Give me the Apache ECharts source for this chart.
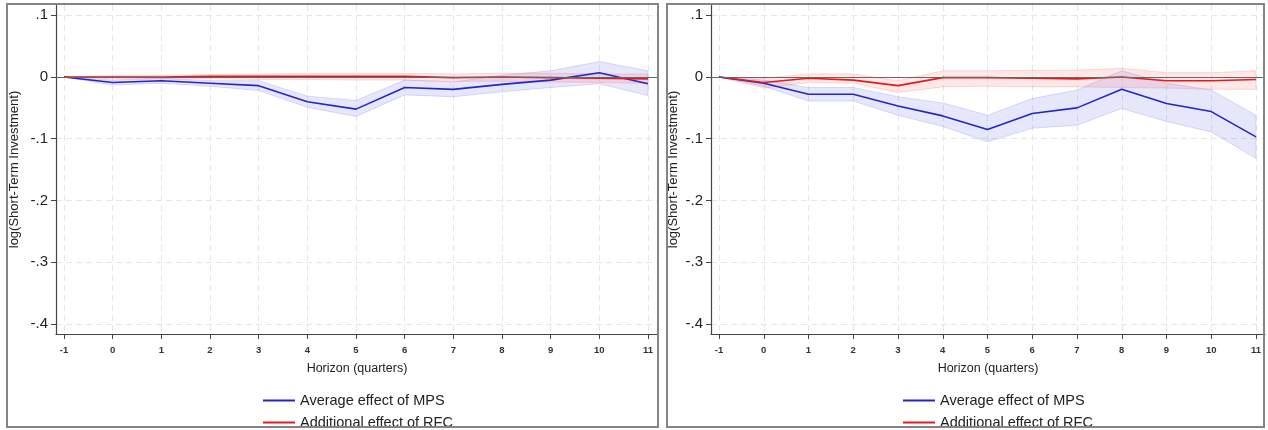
<!DOCTYPE html>
<html>
<head>
<meta charset="utf-8">
<script src="https://cdn.jsdelivr.net/npm/echarts@6/dist/echarts.min.js"></script>
<style>
  html, body { margin: 0; padding: 0; background: #fff; }
  #main { width: 1268px; height: 430px; }
</style>
</head>
<body>
<div id="main"></div>
<script>
// horizons (quarters)
var horizons = [-1, 0, 1, 2, 3, 4, 5, 6, 7, 8, 9, 10, 11];
var xTicks = [-1, 0, 1, 2, 3, 4, 5, 6, 7, 8, 9, 10, 11];
var yTicks = [0.1, 0, -0.1, -0.2, -0.3, -0.4];
var seriesNames = ['Average effect of MPS', 'Additional effect of RFC'];

// left panel
var mpsLeft   = [0, -0.009, -0.006, -0.010, -0.014, -0.040, -0.052, -0.017, -0.020, -0.012, -0.005, 0.007, -0.011];
var mpsLeftLo = [0, -0.013, -0.010, -0.015, -0.022, -0.049, -0.064, -0.029, -0.032, -0.024, -0.017, -0.011, -0.030];
var mpsLeftHi = [0, -0.005, -0.002, -0.006, -0.006, -0.031, -0.038, -0.005, -0.008, 0.003, 0.010, 0.025, 0.010];
var rfcLeft   = [0, 0.000, 0.000, 0.001, 0.001, 0.001, 0.001, 0.001, -0.001, 0.000, -0.001, -0.002, -0.003];
var rfcLeftLo = [0, -0.003, -0.003, -0.003, -0.004, -0.004, -0.005, -0.005, -0.007, -0.007, -0.008, -0.009, -0.010];
var rfcLeftHi = [0, 0.003, 0.003, 0.004, 0.005, 0.006, 0.006, 0.006, 0.005, 0.006, 0.006, 0.005, 0.005];

// right panel
var mpsRight   = [0, -0.010, -0.028, -0.028, -0.047, -0.063, -0.085, -0.059, -0.050, -0.020, -0.043, -0.056, -0.097];
var mpsRightLo = [0, -0.015, -0.039, -0.039, -0.062, -0.080, -0.105, -0.083, -0.078, -0.051, -0.072, -0.089, -0.132];
var mpsRightHi = [0, -0.005, -0.017, -0.017, -0.032, -0.042, -0.062, -0.035, -0.021, 0.010, -0.010, -0.021, -0.062];
var rfcRight   = [0, -0.009, -0.002, -0.005, -0.014, -0.001, -0.001, -0.002, -0.003, 0.000, -0.006, -0.006, -0.004];
var rfcRightLo = [0, -0.018, -0.009, -0.010, -0.025, -0.016, -0.015, -0.016, -0.016, -0.017, -0.018, -0.020, -0.020];
var rfcRightHi = [0, -0.002, 0.005, 0.005, -0.006, 0.010, 0.010, 0.011, 0.011, 0.014, 0.007, 0.007, 0.010];

var BLUE = '#2424c8';
var RED = '#e41a1c';
var FONT = '"Liberation Sans", Arial, sans-serif';

function pairs(ys) {
    return horizons.map(function (h, i) { return [h, ys[i]]; });
}

function band(idx, lo, hi, fill, stroke) {
    return {
        type: 'custom',
        xAxisIndex: idx,
        yAxisIndex: idx,
        silent: true,
        z: 1,
        data: horizons.map(function (h, i) { return [h, lo[i], hi[i]]; }),
        encode: { x: 0, y: [1, 2] },
        renderItem: function (params, api) {
            if (params.dataIndex !== 0) return;
            var pts = [];
            for (var i = 0; i < horizons.length; i++) pts.push(api.coord([horizons[i], hi[i]]));
            for (var j = horizons.length - 1; j >= 0; j--) pts.push(api.coord([horizons[j], lo[j]]));
            return {
                type: 'polygon',
                shape: { points: pts },
                style: { fill: fill, stroke: stroke, lineWidth: 1 }
            };
        }
    };
}

function line(idx, name, ys, color) {
    return {
        type: 'line',
        name: name,
        xAxisIndex: idx,
        yAxisIndex: idx,
        data: pairs(ys),
        symbol: 'none',
        z: 3,
        color: color,
        lineStyle: { color: color, width: 1.6 }
    };
}

function zeroLine(idx) {
    return {
        type: 'line',
        xAxisIndex: idx,
        yAxisIndex: idx,
        data: [],
        z: 2,
        markLine: {
            silent: true,
            symbol: 'none',
            label: { show: false },
            lineStyle: { color: '#666', width: 1.2, type: 'solid' },
            data: [{ yAxis: 0 }]
        }
    };
}

function xAxis(idx, min, max) {
    return {
        type: 'value',
        gridIndex: idx,
        min: min,
        max: max,
        name: 'Horizon (quarters)',
        nameLocation: 'middle',
        nameGap: 28,
        nameTextStyle: { fontFamily: FONT, fontSize: 12.5, color: '#222' },
        axisLine: { onZero: false, lineStyle: { color: '#444', width: 1.2 } },
        axisTick: { show: true, length: 5, customValues: xTicks, lineStyle: { color: '#444' } },
        axisLabel: { customValues: xTicks, margin: 11, fontFamily: FONT, fontSize: 9.5, fontWeight: 'bold', color: '#333' },
        splitLine: { show: true, lineStyle: { color: '#e6e6e6', type: [6, 4], width: 1 } }
    };
}

function yAxis(idx, gap) {
    return {
        type: 'value',
        gridIndex: idx,
        min: -0.4162,
        max: 0.1166,
        name: 'log(Short-Term Investment)',
        nameLocation: 'middle',
        nameGap: gap,
        nameTextStyle: { fontFamily: FONT, fontSize: 13, color: '#222' },
        axisLine: { show: true, onZero: false, lineStyle: { color: '#444', width: 1.2 } },
        axisTick: { show: true, length: 5, customValues: yTicks, lineStyle: { color: '#444' } },
        axisLabel: {
            customValues: yTicks, margin: 8, fontFamily: FONT, fontSize: 15, color: '#222',
            formatter: function (v) {
                if (Math.abs(v) < 1e-9) return '0';
                var s = (Math.round(v * 10) / 10).toString();
                return s.replace('0.', '.');
            }
        },
        splitLine: { show: true, lineStyle: { color: '#e6e6e6', type: [6, 4], width: 1 } }
    };
}

function legend(left, top, name) {
    return {
        left: left,
        top: top,
        icon: 'rect',
        itemWidth: 32,
        itemHeight: 2,
        data: [name],
        textStyle: { fontFamily: FONT, fontSize: 14.5, color: '#222' },
        selectedMode: false
    };
}

var myChart = echarts.init(document.getElementById('main'), null, { renderer: 'canvas' });

var option = {
    backgroundColor: '#fff',
    animation: false,
    grid: [
        { left: 56, top: 5, width: 602, height: 329 },
        { left: 711, top: 5, width: 554, height: 329 }
    ],
    xAxis: [xAxis(0, -1.1644, 11.2055), xAxis(1, -1.1788, 11.201)],
    yAxis: [yAxis(0, 35), yAxis(1, 31)],
    legend: [
        legend(258, 388, seriesNames[0]),
        legend(258, 410, seriesNames[1]),
        legend(898, 388, seriesNames[0]),
        legend(898, 410, seriesNames[1])
    ],
    graphic: [
        { type: 'rect', shape: { x: 7, y: 4, width: 651, height: 423 }, style: { fill: 'none', stroke: '#858585', lineWidth: 2 }, z: 10 },
        { type: 'rect', shape: { x: 667, y: 4, width: 597, height: 423 }, style: { fill: 'none', stroke: '#858585', lineWidth: 2 }, z: 10 }
    ],
    series: [
        zeroLine(0),
        band(0, mpsLeftLo, mpsLeftHi, 'rgba(70,70,235,0.13)', 'rgba(70,70,235,0.18)'),
        band(0, rfcLeftLo, rfcLeftHi, 'rgba(240,70,70,0.13)', 'rgba(240,70,70,0.18)'),
        line(0, seriesNames[0], mpsLeft, BLUE),
        line(0, seriesNames[1], rfcLeft, RED),
        zeroLine(1),
        band(1, mpsRightLo, mpsRightHi, 'rgba(70,70,235,0.13)', 'rgba(70,70,235,0.18)'),
        band(1, rfcRightLo, rfcRightHi, 'rgba(240,70,70,0.13)', 'rgba(240,70,70,0.18)'),
        line(1, seriesNames[0], mpsRight, BLUE),
        line(1, seriesNames[1], rfcRight, RED)
    ]
};

myChart.setOption(option);
</script>
</body>
</html>
